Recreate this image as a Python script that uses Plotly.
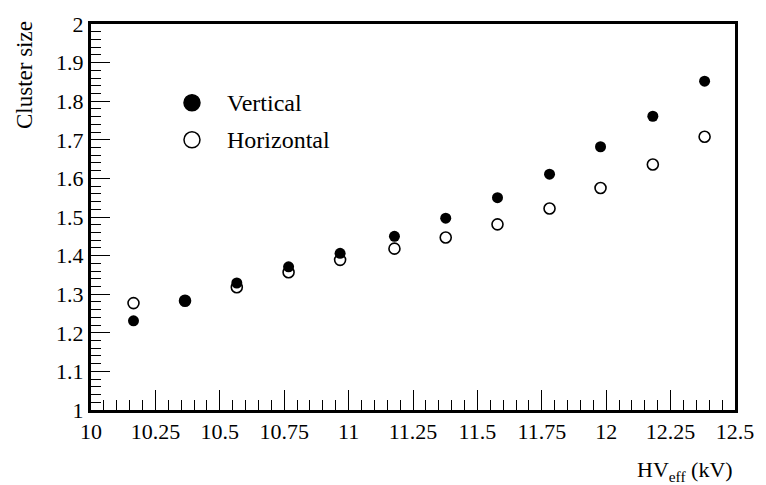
import plotly.graph_objects as go

# Effective high voltage (kV)
hv_eff = [10.165, 10.365, 10.566, 10.767, 10.967, 11.178, 11.377, 11.578, 11.780, 11.978, 12.181, 12.382]
# Mean cluster size per readout plane
cs_vertical = [1.231, 1.283, 1.329, 1.371, 1.406, 1.450, 1.497, 1.550, 1.611, 1.682, 1.761, 1.852]
cs_horizontal = [1.277, 1.283, 1.318, 1.357, 1.389, 1.418, 1.447, 1.481, 1.522, 1.575, 1.636, 1.708]

x_ticks = [10, 10.25, 10.5, 10.75, 11, 11.25, 11.5, 11.75, 12, 12.25, 12.5]
x_ticktext = ["10", "10.25", "10.5", "10.75", "11", "11.25", "11.5", "11.75", "12", "12.25", "12.5"]
y_ticks = [1, 1.1, 1.2, 1.3, 1.4, 1.5, 1.6, 1.7, 1.8, 1.9, 2]
y_ticktext = ["1", "1.1", "1.2", "1.3", "1.4", "1.5", "1.6", "1.7", "1.8", "1.9", "2"]

FONT = "Liberation Serif"

fig = go.Figure()
fig.add_trace(go.Scatter(
    x=hv_eff, y=cs_vertical, mode="markers", name="Vertical",
    marker=dict(symbol="circle", size=11, color="black", line=dict(width=0)),
))
fig.add_trace(go.Scatter(
    x=hv_eff, y=cs_horizontal, mode="markers", name="Horizontal",
    marker=dict(symbol="circle-open", size=11, color="black", line=dict(width=1.6)),
))

# Legend drawn inside the frame: markers as pixel-sized circles, labels as text
legend_x = 10.392
for yv, filled, label in [(1.796, True, "Vertical"), (1.700, False, "Horizontal")]:
    fig.add_shape(
        type="circle", xref="x", yref="y", xsizemode="pixel", ysizemode="pixel",
        xanchor=legend_x, yanchor=yv, x0=-8, x1=8, y0=-8, y1=8,
        fillcolor="black" if filled else "white",
        line=dict(color="black", width=1.5),
    )
    fig.add_annotation(
        x=legend_x, y=yv, xref="x", yref="y", text=label, showarrow=False,
        xanchor="left", yanchor="middle", xshift=33,
        font=dict(family=FONT, size=24, color="black"),
    )

# Axis titles
fig.add_annotation(
    x=1.0, y=-0.2, xref="paper", yref="paper", text="HV<sub>eff</sub> (kV)",
    showarrow=False, xanchor="right", yanchor="bottom",
    font=dict(family=FONT, size=22, color="black"),
)
fig.add_annotation(
    x=-0.103, y=1.012, xref="paper", yref="paper", text="Cluster size",
    showarrow=False, textangle=-90, xanchor="center", yanchor="top",
    font=dict(family=FONT, size=23, color="black"),
)

axis_common = dict(
    showline=True, linecolor="black", linewidth=3, mirror=True,
    showgrid=False, zeroline=False, ticks="inside", tickcolor="black",
    tickwidth=1, tickfont=dict(family=FONT, size=22, color="black"),
)

fig.update_layout(
    width=766, height=485,
    margin=dict(l=91, r=24, t=17, b=75),
    paper_bgcolor="white", plot_bgcolor="white",
    showlegend=False,
    xaxis=dict(
        range=[10, 12.5], tickmode="array", tickvals=x_ticks, ticktext=x_ticktext,
        ticklen=20,
        minor=dict(dtick=0.05, tick0=10, ticks="inside", ticklen=10, tickcolor="black", tickwidth=1, showgrid=False),
        **axis_common,
    ),
    yaxis=dict(
        range=[1, 2], tickmode="array", tickvals=y_ticks, ticktext=y_ticktext,
        ticklen=19,
        minor=dict(dtick=0.02, tick0=1, ticks="inside", ticklen=10, tickcolor="black", tickwidth=1, showgrid=False),
        **axis_common,
    ),
)

fig.write_html("out.html")
